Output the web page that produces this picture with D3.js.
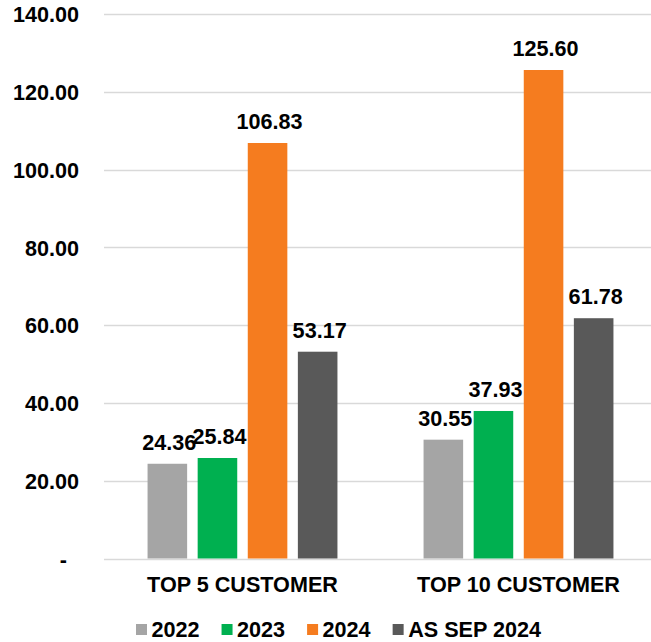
<!DOCTYPE html>
<html>
<head>
<meta charset="utf-8">
<script src="https://cdn.jsdelivr.net/npm/d3@7"></script>
<style>
  html, body { margin: 0; padding: 0; background: #fff; }
  svg text { font-family: "Liberation Sans", Arial, sans-serif; font-weight: bold; fill: #000; }
</style>
</head>
<body>
<svg id="chart" width="651" height="642"></svg>
<script>
// Customer revenue by period
const categories = ["TOP 5 CUSTOMER", "TOP 10 CUSTOMER"];
const seriesNames = ["2022", "2023", "2024", "AS SEP 2024"];
const seriesColors = ["#a5a5a5", "#00b050", "#f57c1f", "#595959"];
const values2022 = [24.36, 30.55];
const values2023 = [25.84, 37.93];
const values2024 = [106.83, 125.60];
const valuesSep2024 = [53.17, 61.78];
const yTicks = [0, 20, 40, 60, 80, 100, 120, 140];

const seriesValues = [values2022, values2023, values2024, valuesSep2024];
const rows = categories.map((c, i) => ({
  category: c,
  bars: seriesNames.map((s, j) => ({ series: s, value: seriesValues[j][i], color: seriesColors[j] }))
}));

const svg = d3.select("#chart");
const fontSize = 21.6;

const y = d3.scaleLinear().domain([0, 140]).range([558.5, 14]);
const x0 = d3.scaleBand().domain(categories).range([104.5, 656.5])
  .paddingInner(0.312).paddingOuter(0.156);
const x1 = d3.scaleBand().domain(seriesNames).range([0, x0.bandwidth()])
  .paddingInner(0.21).paddingOuter(0);

// Horizontal gridlines
svg.append("g")
  .selectAll("line")
  .data(yTicks)
  .join("line")
  .attr("x1", 104)
  .attr("x2", 651)
  .attr("y1", d => Math.round(y(d)) + 0.5)
  .attr("y2", d => Math.round(y(d)) + 0.5)
  .attr("stroke", "#d9d9d9")
  .attr("stroke-width", 1.3);

// Y axis labels
const yAxis = d3.axisLeft(y)
  .tickValues(yTicks)
  .tickSize(0)
  .tickPadding(0)
  .tickFormat(d => d === 0 ? "-" : d3.format(".2f")(d));
const yg = svg.append("g").attr("transform", "translate(79,0)").call(yAxis);
yg.select(".domain").remove();
yg.selectAll("text")
  .style("font-size", fontSize + "px")
  .attr("fill", "#000")
  .attr("dy", "0.36em")
  .attr("dx", d => d === 0 ? -12 : 0);

// Bars
const groups = svg.append("g")
  .selectAll("g")
  .data(rows)
  .join("g")
  .attr("transform", d => `translate(${x0(d.category)},0)`);

groups.selectAll("rect")
  .data(d => d.bars)
  .join("rect")
  .attr("x", d => x1(d.series))
  .attr("width", x1.bandwidth())
  .attr("y", d => y(d.value))
  .attr("height", d => y(0) - y(d.value))
  .attr("fill", d => d.color);

// Value labels
groups.selectAll("text")
  .data(d => d.bars)
  .join("text")
  .attr("x", d => x1(d.series) + x1.bandwidth() / 2 + 2)
  .attr("y", d => y(d.value) - 14)
  .attr("text-anchor", "middle")
  .style("font-size", fontSize + "px")
  .text(d => d3.format(".2f")(d.value));

// Category axis labels
svg.append("g")
  .selectAll("text")
  .data(categories)
  .join("text")
  .attr("x", d => x0(d) + x0.bandwidth() / 2)
  .attr("y", 591.5)
  .attr("text-anchor", "middle")
  .style("font-size", fontSize + "px")
  .text(d => d);

// Legend
const legend = svg.append("g");
let lx = 136;
seriesNames.forEach((name, i) => {
  legend.append("rect")
    .attr("x", lx).attr("y", 624)
    .attr("width", 11).attr("height", 11)
    .attr("fill", seriesColors[i]);
  const t = legend.append("text")
    .attr("x", lx + 15.5)
    .attr("y", 636.5)
    .style("font-size", fontSize + "px")
    .text(name);
  lx += 15.5 + t.node().getComputedTextLength() + 22;
});
</script>
</body>
</html>
